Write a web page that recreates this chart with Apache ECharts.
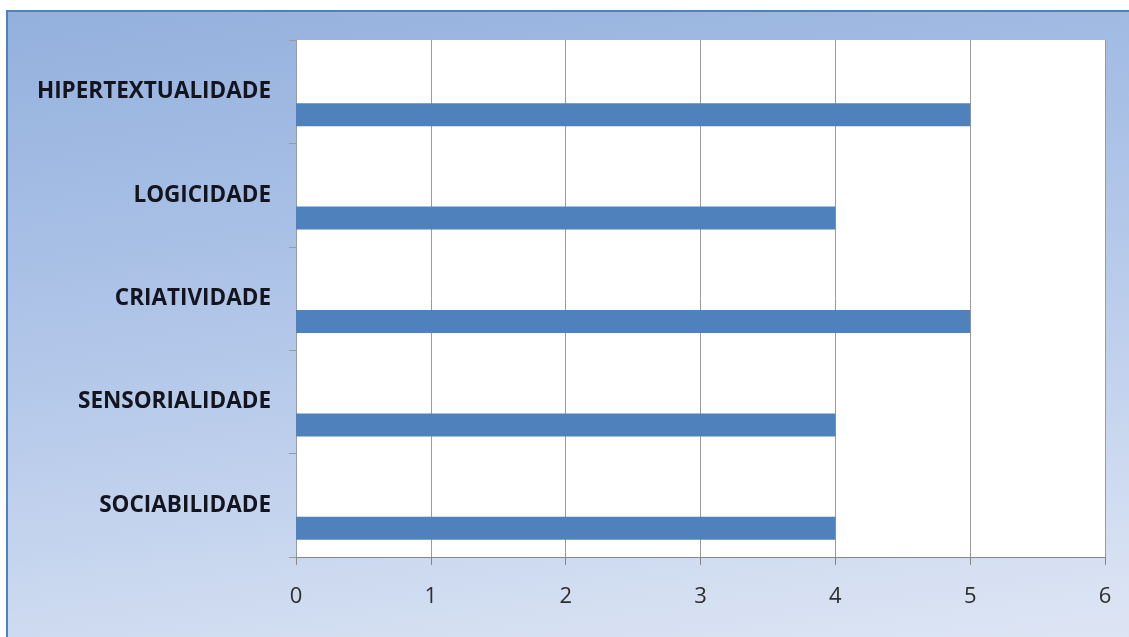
<!DOCTYPE html>
<html>
<head>
<meta charset="utf-8">
<script src="https://cdn.jsdelivr.net/npm/echarts@6/dist/echarts.min.js"></script>
<style>
html,body{margin:0;padding:0;background:#fff;width:1129px;height:637px;overflow:hidden;}
#bg{position:absolute;left:6px;top:10px;width:1200px;height:700px;border-left:2px solid #4F81BD;border-top:2px solid #4F81BD;
background:linear-gradient(172deg,#93B0DD 0%,#B5C9EA 45%,#DAE3F3 85%,#E1E8F5 100%);}
#chart{position:absolute;left:0;top:0;width:1129px;height:637px;}
</style>
</head>
<body>
<div id="bg"></div>
<div id="chart"></div>
<script>
var categories = ['SOCIABILIDADE','SENSORIALIDADE','CRIATIVIDADE','LOGICIDADE','HIPERTEXTUALIDADE'];
var values = [4,4,5,4,5];
var emptyValues = ['-','-','-','-','-'];
var xTicks = [0,1,2,3,4,5,6];

var chart = echarts.init(document.getElementById('chart'), null, {renderer:'canvas'});
chart.setOption({
  backgroundColor: 'transparent',
  animation: false,
  grid: {left:296, right:24, top:40, bottom:80, show:true, backgroundColor:'#ffffff', borderWidth:0},
  xAxis: {
    type:'value', min:xTicks[0], max:xTicks[xTicks.length-1], interval:1,
    axisLine:{show:true, lineStyle:{color:'#868686', width:1}},
    axisTick:{show:true, length:8, lineStyle:{color:'#868686'}},
    splitLine:{show:true, lineStyle:{color:'#9a9a9a', width:1}},
    axisLabel:{fontFamily:'Open Sans', fontSize:22, color:'#2e2e2e', margin:29}
  },
  yAxis: {
    type:'category', data:categories,
    axisLine:{show:true, lineStyle:{color:'#9a9a9a', width:1}},
    axisTick:{show:true, length:7, lineStyle:{color:'#9a9a9a'}},
    axisLabel:{fontFamily:'Open Sans', fontWeight:'bold', fontSize:22.5, color:'#14141e', margin:25}
  },
  series: [
    {type:'bar', name:'vazio', data:emptyValues, barWidth:23, barGap:'100%'},
    {type:'bar', name:'valor', data:values, barWidth:23, barGap:'100%', itemStyle:{color:'#4F81BD'}}
  ]
});
</script>
</body>
</html>
